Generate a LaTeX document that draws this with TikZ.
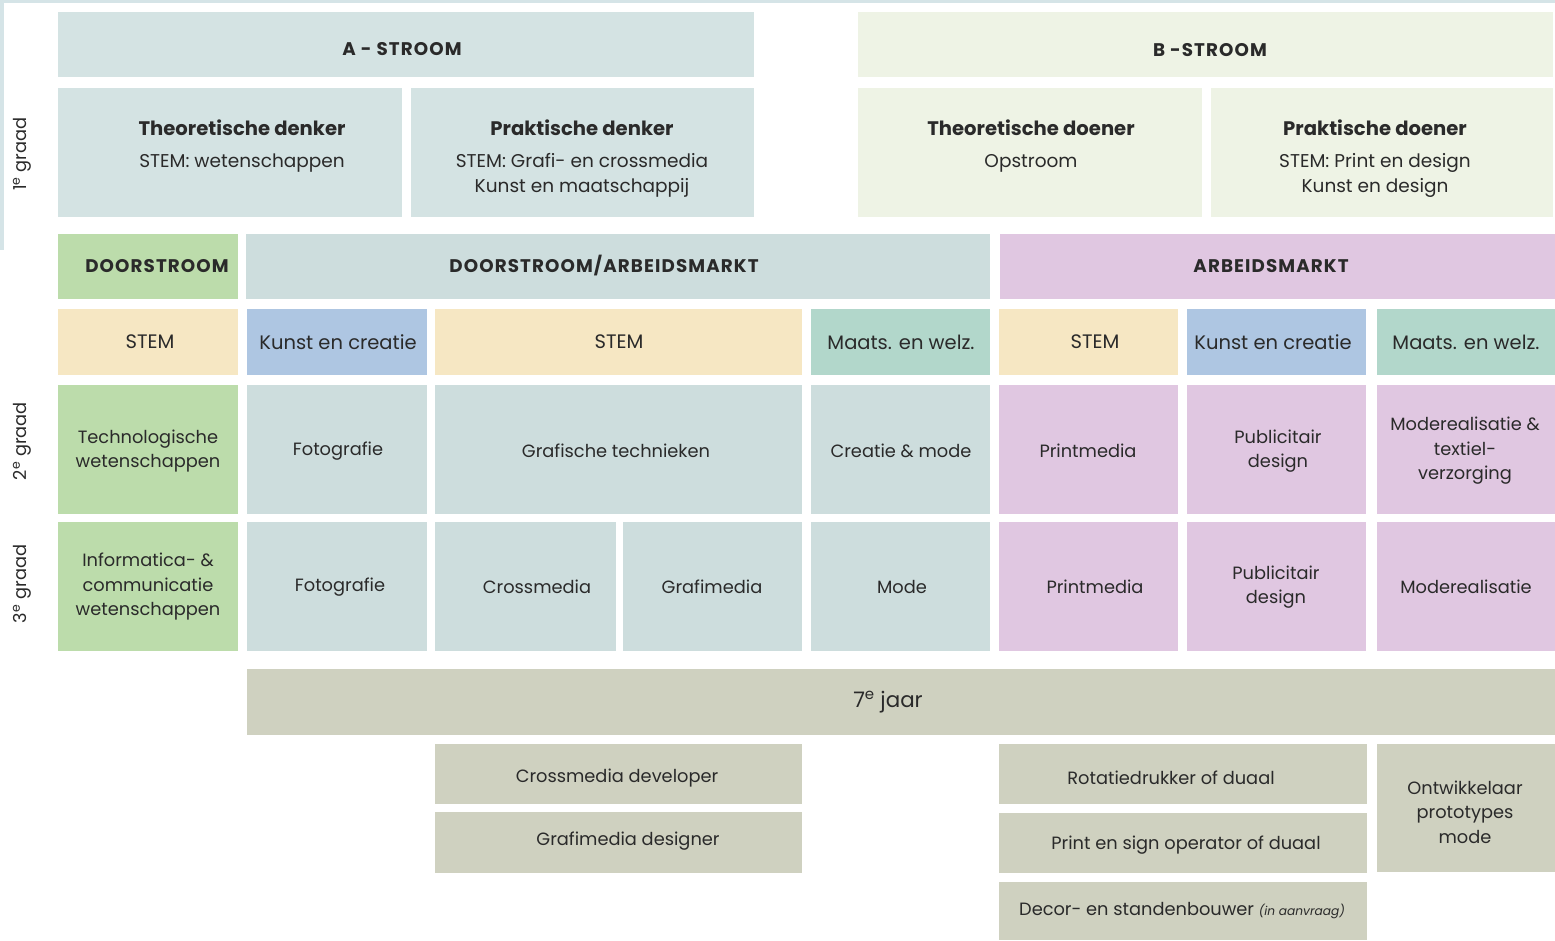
\documentclass[tikz,border=0pt]{standalone}
\usepackage{fontspec}
\setmainfont{Poppins}
\definecolor{rand}{HTML}{D5E4E7}
\definecolor{astr}{HTML}{D4E3E3}
\definecolor{bstr}{HTML}{EEF3E5}
\definecolor{door}{HTML}{BCDCAB}
\definecolor{blgr}{HTML}{CDDDDD}
\definecolor{stem}{HTML}{F6E7C3}
\definecolor{kunst}{HTML}{AEC6E2}
\definecolor{maats}{HTML}{B2D7CB}
\definecolor{arbeid}{HTML}{E0C7E1}
\definecolor{zeven}{HTML}{CFD1C0}
\definecolor{tekst}{HTML}{2A2A2A}

\begin{document}
\begin{tikzpicture}[x=1pt,y=-1pt,
  lbl/.style={text=tekst,inner sep=0pt,align=center,font=\fontsize{17.8}{24.5}\selectfont},
  dom/.style={lbl,font=\fontsize{19.5}{24}\selectfont},
  kop/.style={lbl,font=\fontsize{18.3}{20}\selectfont\bfseries\addfontfeatures{LetterSpace=6}},
  blok/.style={lbl,anchor=north,font=\fontsize{18.5}{25}\selectfont}]
\useasboundingbox (0,0) rectangle (1555,940);
\fill[rand] (0,0) rectangle (1555,3);
\fill[rand] (0,0) rectangle (4,250);
% 1e graad
\fill[astr] (58,12) rectangle (754,77);
\node[kop] (astroom) at (402,49) {A - STROOM};
\fill[bstr] (858,12) rectangle (1553,77);
\node[kop] (bstroom) at (1210,50) {B -STROOM};
\fill[astr] (58,88) rectangle (402,217);
\node[blok] (tden) at (242,120) {{\fontsize{19.6}{22}\selectfont\bfseries Theoretische denker}\\[7pt]STEM: wetenschappen};
\fill[astr] (411,88) rectangle (754,217);
\node[blok] (pden) at (582,120) {{\fontsize{19.6}{22}\selectfont\bfseries Praktische denker}\\[7pt]STEM: Grafi- en crossmedia\\Kunst en maatschappij};
\fill[bstr] (858,88) rectangle (1202,217);
\node[blok] (tdoe) at (1031,120) {{\fontsize{19.6}{22}\selectfont\bfseries Theoretische doener}\\[7pt]Opstroom};
\fill[bstr] (1211,88) rectangle (1553,217);
\node[blok] (pdoe) at (1375,120) {{\fontsize{19.6}{22}\selectfont\bfseries Praktische doener}\\[7pt]STEM: Print en design\\Kunst en design};
% finaliteiten
\fill[door] (58,234) rectangle (238,299);
\node[kop] (door) at (157,266) {DOORSTROOM};
\fill[blgr] (246,234) rectangle (990,299);
\node[kop] (doorarb) at (604,266) {DOORSTROOM/ARBEIDSMARKT};
\fill[arbeid] (1000,234) rectangle (1555,299);
\node[kop] (arb) at (1271,266) {ARBEIDSMARKT};
% domeinen
\fill[stem] (58,309) rectangle (238,375);
\node[dom] (stema) at (150,342) {STEM};
\fill[kunst] (247,309) rectangle (427,375);
\node[dom] (kunsta) at (338,342) {Kunst en creatie};
\fill[stem] (435,309) rectangle (802,375);
\node[dom] (stemb) at (619,342) {STEM};
\fill[maats] (811,309) rectangle (990,375);
\node[dom] (maatsa) at (901,342) {Maats. en welz.};
\fill[stem] (999,309) rectangle (1178,375);
\node[dom] (stemc) at (1095,342) {STEM};
\fill[kunst] (1187,309) rectangle (1366,375);
\node[dom] (kunstb) at (1273,342) {Kunst en creatie};
\fill[maats] (1377,309) rectangle (1555,375);
\node[dom] (maatsb) at (1466,342) {Maats. en welz.};
% 2e graad
\fill[door] (58,385) rectangle (238,514);
\node[lbl] (tw) at (148,451) {Technologische\\wetenschappen};
\fill[blgr] (247,385) rectangle (427,514);
\node[lbl] (foto2) at (338,451) {Fotografie};
\fill[blgr] (435,385) rectangle (802,514);
\node[lbl] (graf) at (616,451) {Grafische technieken};
\fill[blgr] (811,385) rectangle (990,514);
\node[lbl] (creatie) at (901,451) {Creatie \& mode};
\fill[arbeid] (999,385) rectangle (1178,514);
\node[lbl] (print2) at (1088,451) {Printmedia};
\fill[arbeid] (1187,385) rectangle (1366,514);
\node[lbl] (publ2) at (1278,451) {Publicitair\\design};
\fill[arbeid] (1377,385) rectangle (1555,514);
\node[lbl] (moder2) at (1465,451) {Moderealisatie \&\\textiel-\\verzorging};
% 3e graad
\fill[door] (58,522) rectangle (238,651);
\node[lbl] (icw) at (148,587) {Informatica- \&\\communicatie\\wetenschappen};
\fill[blgr] (247,522) rectangle (427,651);
\node[lbl] (foto3) at (340,587) {Fotografie};
\fill[blgr] (435,522) rectangle (616,651);
\node[lbl] (cross) at (537,587) {Crossmedia};
\fill[blgr] (623,522) rectangle (802,651);
\node[lbl] (grafi) at (712,587) {Grafimedia};
\fill[blgr] (811,522) rectangle (990,651);
\node[lbl] (mode) at (902,587) {Mode};
\fill[arbeid] (999,522) rectangle (1178,651);
\node[lbl] (print3) at (1095,587) {Printmedia};
\fill[arbeid] (1187,522) rectangle (1366,651);
\node[lbl] (publ3) at (1276,587) {Publicitair\\design};
\fill[arbeid] (1377,522) rectangle (1555,651);
\node[lbl] (moder3) at (1466,587) {Moderealisatie};
% 7e jaar
\fill[zeven] (247,669) rectangle (1555,735);
\node[lbl,font=\fontsize{21.4}{24}\selectfont] (jaar7) at (888,702) {7\textsuperscript{e} jaar};
\fill[zeven] (435,744) rectangle (802,804);
\node[lbl] (cdev) at (617,778) {Crossmedia developer};
\fill[zeven] (435,812) rectangle (802,873);
\node[lbl] (gdes) at (628,841) {Grafimedia designer};
\fill[zeven] (999,744) rectangle (1367,804);
\node[lbl] (rot) at (1171,778) {Rotatiedrukker of duaal};
\fill[zeven] (999,813) rectangle (1367,873);
\node[lbl] (sign) at (1186,845) {Print en sign operator of duaal};
\fill[zeven] (999,882) rectangle (1367,940);
\node[lbl] (decor) at (1182,911) {Decor- en standenbouwer {\itshape\fontsize{12.2}{14}\selectfont (in aanvraag)}};
\fill[zeven] (1377,744) rectangle (1555,872);
\node[lbl] (ontw) at (1465,812) {Ontwikkelaar\\prototypes\\mode};
% graden
\node[lbl,rotate=90] (g1) at (22,154) {1\textsuperscript{e} graad};
\node[lbl,rotate=90] (g2) at (22,441) {2\textsuperscript{e} graad};
\node[lbl,rotate=90] (g3) at (22,584) {3\textsuperscript{e} graad};
\end{tikzpicture}
\end{document}
